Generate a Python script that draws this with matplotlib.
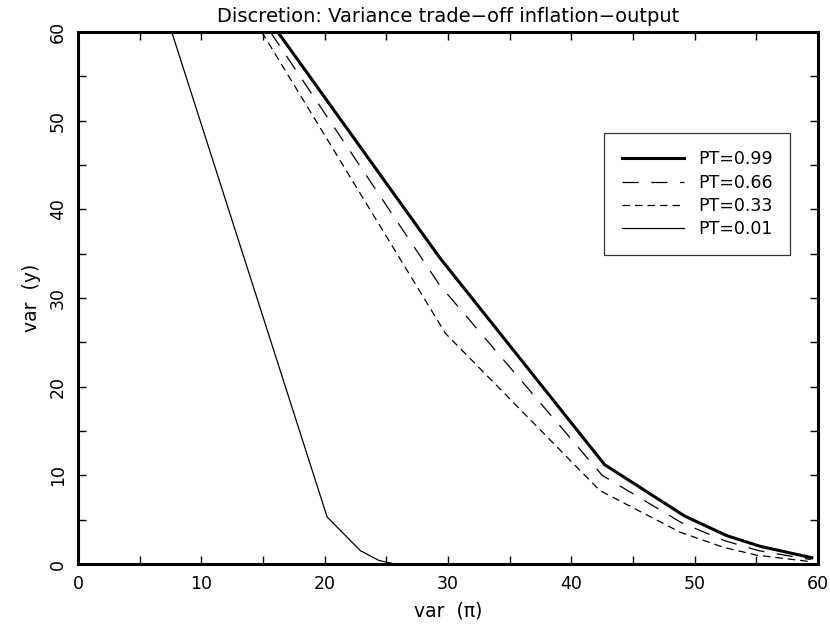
import matplotlib
matplotlib.use("Agg")
import matplotlib.pyplot as plt
from matplotlib.ticker import MultipleLocator

# variance of inflation (x) vs variance of output (y), one curve per PT
x_99 = [16.2, 29.3, 42.7, 49.2, 52.6, 55.3, 59.5]
y_99 = [60.0, 34.6, 11.2, 5.4, 3.2, 2.0, 0.7]

x_66 = [15.6, 29.3, 42.5, 49.0, 52.5, 55.2, 59.4]
y_66 = [60.0, 31.5, 10.0, 4.6, 2.6, 1.5, 0.5]

x_33 = [14.9, 29.8, 42.3, 48.8, 52.3, 55.0, 59.2]
y_33 = [60.0, 26.0, 8.3, 3.6, 1.9, 1.0, 0.3]

x_01 = [7.6, 20.2, 22.9, 24.4, 25.7]
y_01 = [60.0, 5.3, 1.5, 0.4, 0.0]

labels = ["PT=0.99", "PT=0.66", "PT=0.33", "PT=0.01"]

plt.rcParams['font.family'] = ['DejaVu Sans']
fig = plt.figure(figsize=(8.3, 6.35), dpi=100)
ax = fig.add_axes([78/830, 1 - 564/635, 740/830, 532/635])

ax.plot(x_99, y_99, color='black', lw=2.2, label=labels[0])
ax.plot(x_66, y_66, color='black', lw=0.9, dashes=(13, 10), label=labels[1])
ax.plot(x_33, y_33, color='black', lw=0.9, dashes=(6, 4), label=labels[2])
ax.plot(x_01, y_01, color='black', lw=0.9, label=labels[3])

ax.set_xlim(0, 60)
ax.set_ylim(0, 60)
ax.xaxis.set_major_locator(MultipleLocator(10))
ax.yaxis.set_major_locator(MultipleLocator(10))
ax.xaxis.set_minor_locator(MultipleLocator(5))
ax.yaxis.set_minor_locator(MultipleLocator(5))
ax.tick_params(which='both', direction='in', top=True, right=True,
               length=6, width=1, labelsize=12.5, pad=8)
for lab in ax.get_yticklabels():
    lab.set_rotation(90)
    lab.set_va('center')
for sp in ax.spines.values():
    sp.set_linewidth(2.2)

ax.set_title("Discretion: Variance trade-off inflation-output".replace('-', '\u2212'),
             fontsize=14, pad=7)
ax.set_xlabel("var  (\u03c0)", fontsize=13.5, labelpad=6)
ax.set_ylabel("var  (y)", fontsize=13.5, labelpad=6)

leg = ax.legend(loc='upper right', bbox_to_anchor=(0.962, 0.81), fontsize=12.5,
                handlelength=3.6, frameon=True, fancybox=False, edgecolor='black',
                borderpad=1.0, labelspacing=0.3, borderaxespad=0)
leg.get_frame().set_linewidth(0.9)

fig.savefig("out.png", dpi=100)
